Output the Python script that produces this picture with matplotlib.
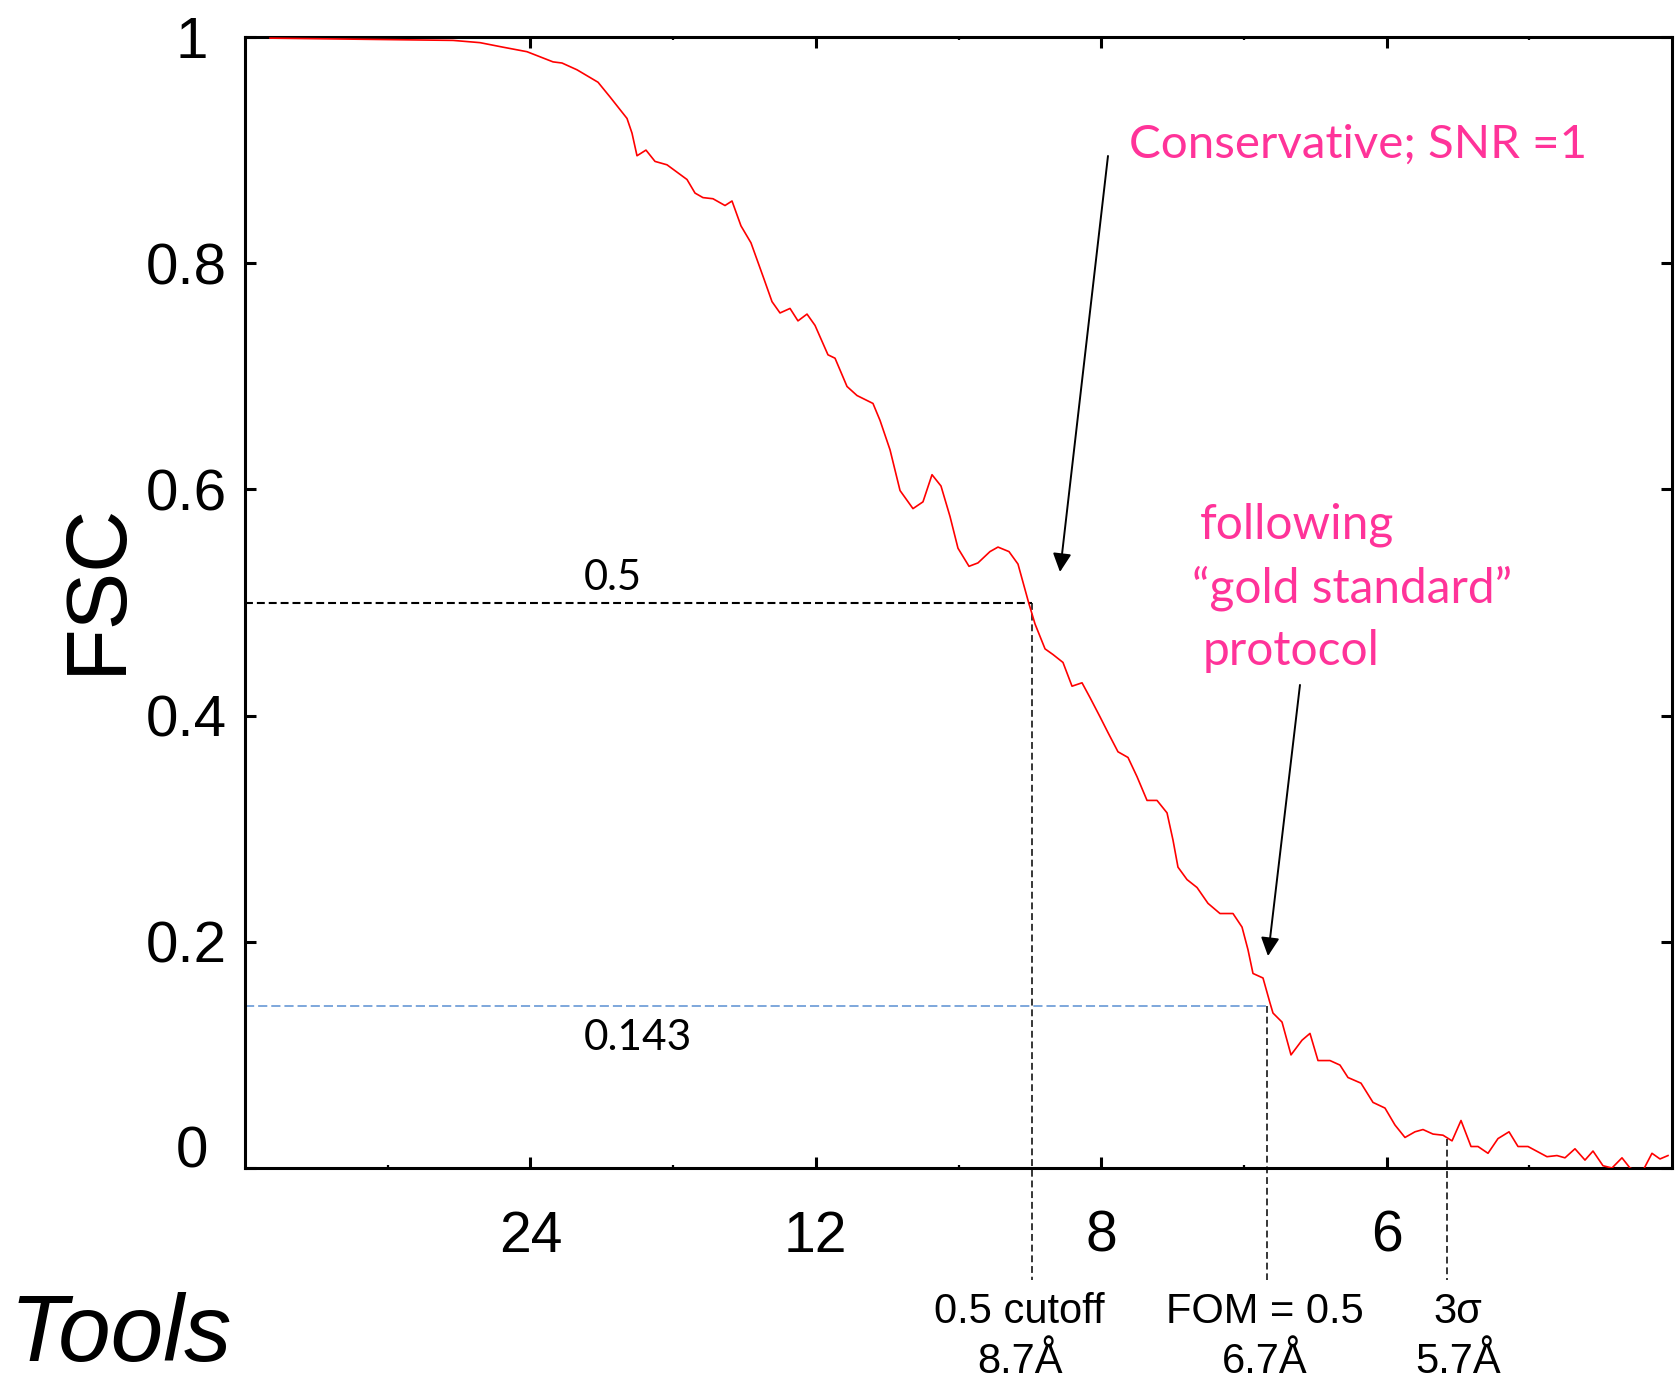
import matplotlib
matplotlib.use("Agg")
import numpy as np
import matplotlib.pyplot as plt
from matplotlib.transforms import (blended_transform_factory, offset_copy,
                                   ScaledTranslation)

# Fourier shell correlation: spatial frequency (1/Å) and FSC value
freq = [0.00365, 0.03037, 0.03431, 0.03767, 0.04117, 0.04497, 0.04628, 0.04847,
        0.05154, 0.05329, 0.05577, 0.05650, 0.05723, 0.05854, 0.05986, 0.06161,
        0.06453, 0.06570, 0.06686, 0.06832, 0.07008, 0.07110, 0.07241, 0.07387,
        0.07577, 0.07694, 0.07811, 0.07957, 0.08073, 0.08205, 0.08322, 0.08511,
        0.08614, 0.08789, 0.08935, 0.09168, 0.09271, 0.09417, 0.09563, 0.09752,
        0.09898, 0.10030, 0.10161, 0.10293, 0.10409, 0.10570, 0.10701, 0.10876,
        0.10993, 0.11154, 0.11285, 0.11440, 0.11534, 0.11680, 0.11796, 0.11942,
        0.12074, 0.12220, 0.12336, 0.12482, 0.12599, 0.12745, 0.12891, 0.13023,
        0.13169, 0.13315, 0.13461, 0.13548, 0.13621, 0.13753, 0.13899, 0.14059,
        0.14234, 0.14424, 0.14556, 0.14643, 0.14716, 0.14862, 0.14964, 0.15008,
        0.15140, 0.15271, 0.15432, 0.15548, 0.15665, 0.15840, 0.15986, 0.16103,
        0.16293, 0.16468, 0.16643, 0.16789, 0.16935, 0.17081, 0.17198, 0.17344,
        0.17490, 0.17622, 0.17753, 0.17899, 0.18001, 0.18147, 0.18293, 0.18454,
        0.18585, 0.18731, 0.19008, 0.19154, 0.19271, 0.19417, 0.19563, 0.19680,
        0.19826, 0.19957, 0.20103, 0.20220, 0.20395, 0.20541, 0.20658, 0.20775]
fsc = [0.999, 0.997, 0.995, 0.991, 0.987, 0.978, 0.977, 0.971,
       0.960, 0.947, 0.928, 0.915, 0.895, 0.900, 0.890, 0.887,
       0.874, 0.862, 0.858, 0.857, 0.851, 0.855, 0.833, 0.818,
       0.786, 0.766, 0.756, 0.760, 0.749, 0.755, 0.745, 0.719,
       0.716, 0.691, 0.683, 0.676, 0.661, 0.635, 0.599, 0.583,
       0.589, 0.613, 0.603, 0.576, 0.548, 0.532, 0.535, 0.545,
       0.549, 0.545, 0.534, 0.500, 0.481, 0.459, 0.454, 0.447,
       0.426, 0.429, 0.416, 0.399, 0.385, 0.368, 0.363, 0.346,
       0.325, 0.325, 0.314, 0.290, 0.266, 0.255, 0.248, 0.234,
       0.225, 0.225, 0.213, 0.193, 0.172, 0.168, 0.146, 0.137,
       0.129, 0.100, 0.113, 0.119, 0.095, 0.095, 0.091, 0.080,
       0.075, 0.058, 0.053, 0.038, 0.027, 0.032, 0.034, 0.030,
       0.029, 0.024, 0.042, 0.019, 0.019, 0.013, 0.026, 0.032,
       0.019, 0.019, 0.010, 0.011, 0.009, 0.017, 0.007, 0.015,
       0.002, 0.000, 0.009, 0.000, -0.004, 0.013, 0.008, 0.011]

# resolution ticks (Å) and the plotted frequency range
res_ticks = [24, 12, 8, 6]
res_edge = 4.8
fsc_ticks = [0, 0.2, 0.4, 0.6, 0.8, 1]
fsc_tick_labels = ["0", "0.2", "0.4", "0.6", "0.8", "1"]

# thresholds
half_bit = 0.5
gold_std = 0.143
cut_res = [8.7, 6.7, 5.7]              # Å
cut_fsc = [0.5, 0.143, 0.026]          # where each marker meets the curve
cut_names = ["0.5 cutoff", "FOM = 0.5", "3σ"]

PINK = "#ff3399"
BLUE = "#5a8fd2"
SANS = ["Liberation Sans", "DejaVu Sans"]
CAL = ["Lato", "DejaVu Sans"]

fig = plt.figure(figsize=(16.76, 13.83), dpi=100)
ax = fig.add_axes([245 / 1676, 1 - 1168 / 1383, 1427 / 1676, 1131 / 1383])

ax.plot(freq, fsc, color="#ff0000", lw=1.2, zorder=3)

# threshold guides
ax.plot([0, 1 / cut_res[0]], [half_bit, half_bit], color="black", lw=1.5,
        dashes=(3.8, 1.9), zorder=2)
ax.plot([0, 1 / cut_res[1]], [gold_std, gold_std], color=BLUE, lw=1.1,
        dashes=(6.0, 2.6), zorder=2)
for r, top in zip(cut_res, cut_fsc):
    ax.plot([1 / r, 1 / r], [top, -0.099], color="black", lw=1.1,
            dashes=(4.5, 2.5), clip_on=False, zorder=2)

ax.set_xlim(0, 1 / res_edge)
ax.set_ylim(0, 1)

ax.set_xticks([1 / r for r in res_ticks], [str(r) for r in res_ticks])
step = 1 / res_ticks[0]
ax.set_xticks(np.arange(0.5, 5, 1) * step, minor=True)
ax.set_yticks(fsc_ticks, fsc_tick_labels)

for s in ax.spines.values():
    s.set_linewidth(2.2)
ax.tick_params(which="both", direction="in", top=True, right=True,
               colors="black")
ax.tick_params(which="major", length=8, width=2.2)
ax.tick_params(which="minor", length=2.5, width=1.6)
ax.tick_params(axis="x", which="major", pad=30, labelsize=41)
ax.tick_params(axis="y", which="major", pad=13, labelsize=42)
for lab in ax.get_xticklabels() + ax.get_yticklabels():
    lab.set_family(SANS)

# the single-digit end labels sit a little further out from the axis
ylabs = ax.get_yticklabels()
ylabs[0].set_va("baseline")
shift = ScaledTranslation(-0.19, 0, fig.dpi_scale_trans)
for lab in (ylabs[0], ylabs[-1]):
    lab.set_transform(lab.get_transform() + shift)

fig.text(98 / 1676, 1 - 588 / 1383, "FSC", rotation=90, ha="center",
         va="center", fontsize=62, family=SANS)
fig.text(10 / 1676, 1 - 1361 / 1383, "Tools", ha="left", va="baseline",
         fontsize=68, style="italic", family=SANS)

# threshold names under the axis
bt = blended_transform_factory(ax.transData, ax.transAxes)
label_dx = [-9, -2, 8]
for r, name, dx in zip(cut_res, cut_names, label_dx):
    tr = offset_copy(bt, fig=fig, x=dx, y=0, units="points")
    ax.text(1 / r, -0.137, name, transform=tr, ha="center", va="baseline",
            fontsize=30, family=SANS, clip_on=False)
    ax.text(1 / r, -0.1813, f"{r}Å", transform=tr, ha="center",
            va="baseline", fontsize=30, family=SANS, clip_on=False)

# threshold values
ax.text(0.04949, 0.5111, "0.5", ha="left", va="baseline", fontsize=30,
        family=CAL, color="black")
ax.text(0.04949, 0.1043, "0.143", ha="left", va="baseline", fontsize=30.5,
        family=CAL, color="black")

# callouts
ax.text(0.12906, 0.8930, "Conservative; SNR =1", ha="left", va="baseline",
        fontsize=34.2, family=CAL, color=PINK)
ax.text(0.13942, 0.5570, "following", ha="left", va="baseline",
        fontsize=34.5, family=CAL, color=PINK)
ax.text(0.13826, 0.4996, "\u201cgold standard\u201d", ha="left",
        va="baseline", fontsize=34.5, family=CAL, color=PINK)
ax.text(0.13986, 0.4447, "protocol", ha="left", va="baseline",
        fontsize=34.5, family=CAL, color=PINK)

arrow = dict(arrowstyle="-|>,head_length=0.4,head_width=0.2", color="black",
             lw=1.4, mutation_scale=28, shrinkA=0, shrinkB=0)
ax.annotate("", xy=(0.11898, 0.5270), xytext=(0.12599, 0.8948),
            arrowprops=arrow)
ax.annotate("", xy=(0.14935, 0.1874), xytext=(0.15402, 0.4271),
            arrowprops=arrow)

fig.savefig("out.png", dpi=100)
